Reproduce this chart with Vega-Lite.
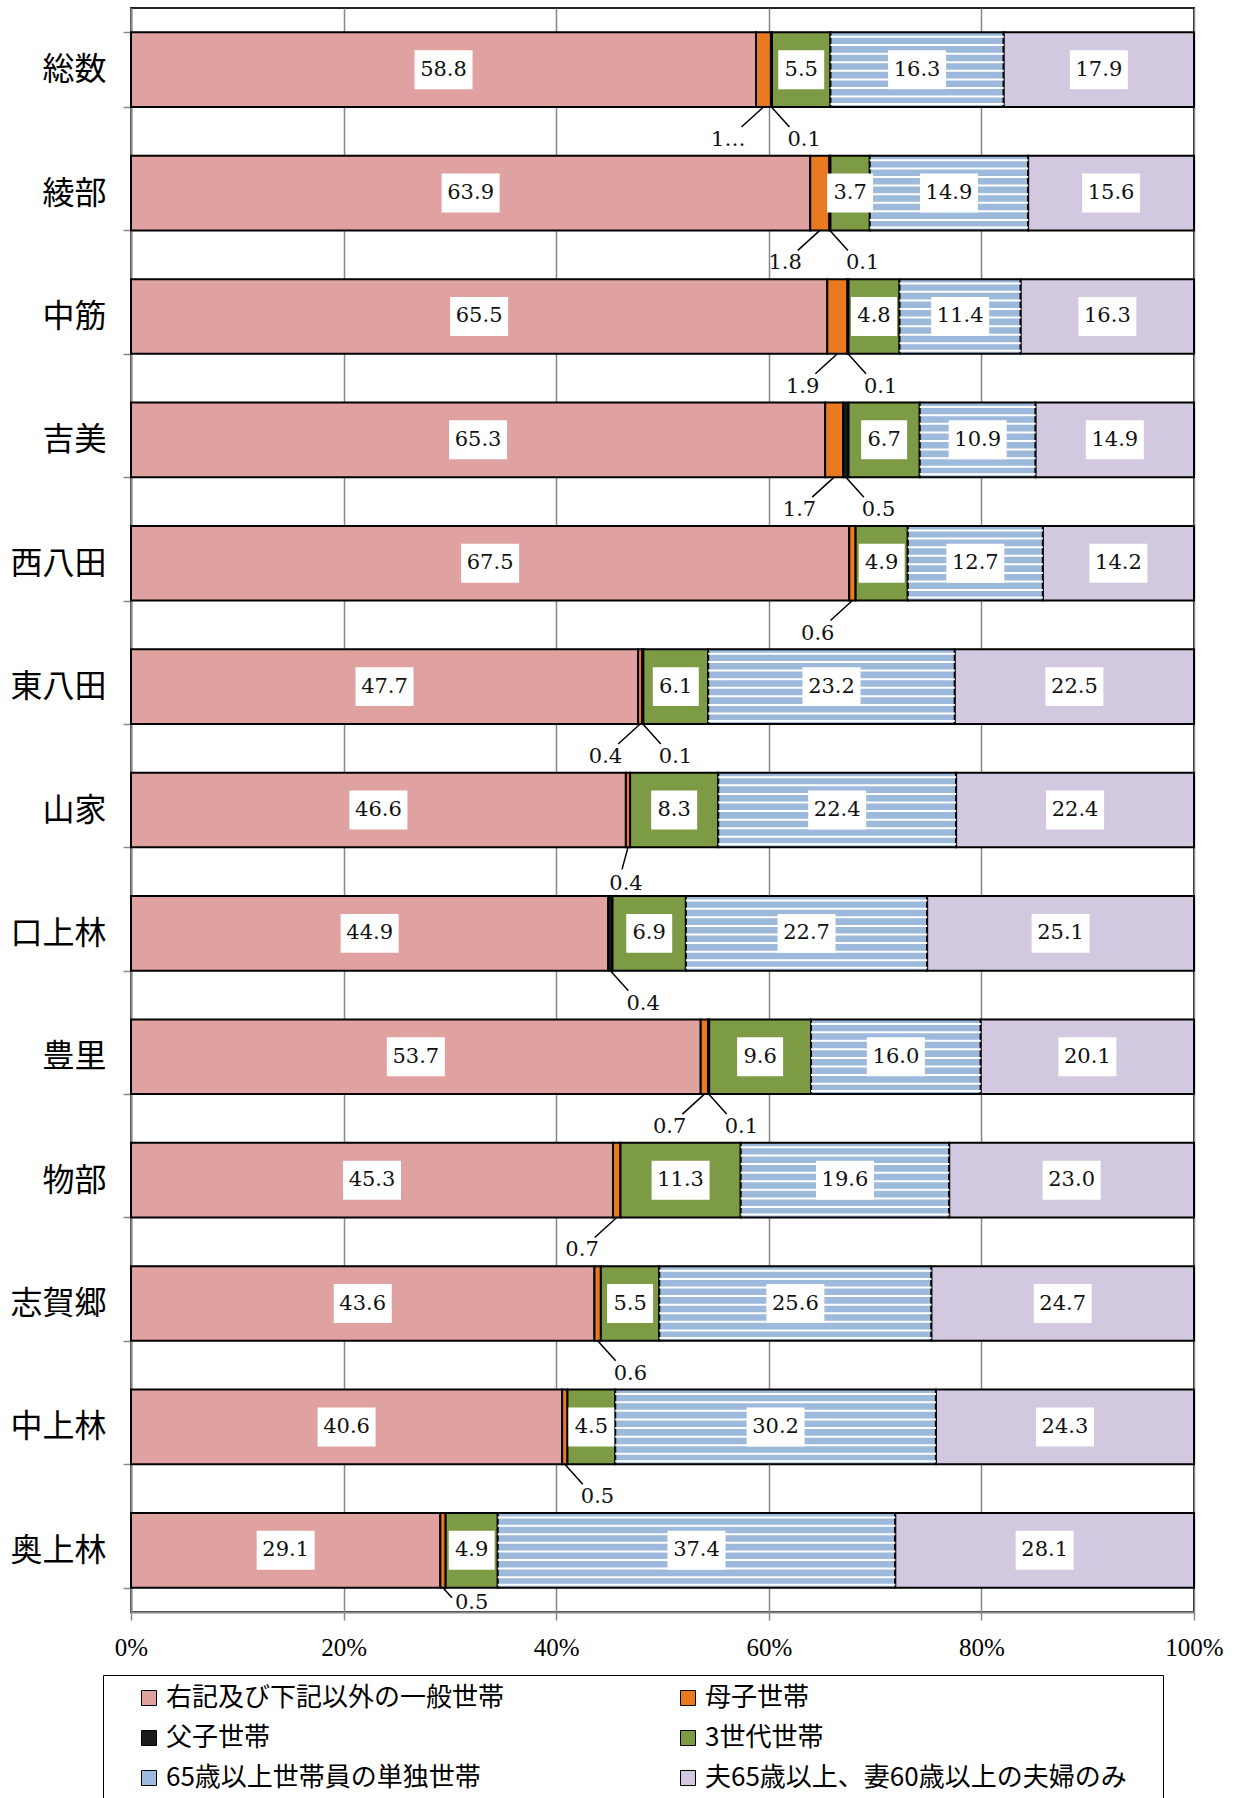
{
  "$schema": "https://vega.github.io/schema/vega-lite/v6.json",
  "width": 1063,
  "height": 1604,
  "autosize": {"type": "none"},
  "padding": {"left": 131, "top": 8, "right": 46, "bottom": 186},
  "background": "white",
  "config": {
    "view": {"stroke": "#222", "strokeWidth": 2},
    "font": "DejaVu Serif"
  },
  "data": {
    "values": [
      {"area": "総数", "type": "右記及び下記以外の一般世帯", "value": 58.8},
      {"area": "総数", "type": "母子世帯", "value": 1.4},
      {"area": "総数", "type": "父子世帯", "value": 0.1},
      {"area": "総数", "type": "3世代世帯", "value": 5.5},
      {"area": "総数", "type": "65歳以上世帯員の単独世帯", "value": 16.3},
      {"area": "総数", "type": "夫65歳以上、妻60歳以上の夫婦のみ", "value": 17.9},
      {"area": "綾部", "type": "右記及び下記以外の一般世帯", "value": 63.9},
      {"area": "綾部", "type": "母子世帯", "value": 1.8},
      {"area": "綾部", "type": "父子世帯", "value": 0.1},
      {"area": "綾部", "type": "3世代世帯", "value": 3.7},
      {"area": "綾部", "type": "65歳以上世帯員の単独世帯", "value": 14.9},
      {"area": "綾部", "type": "夫65歳以上、妻60歳以上の夫婦のみ", "value": 15.6},
      {"area": "中筋", "type": "右記及び下記以外の一般世帯", "value": 65.5},
      {"area": "中筋", "type": "母子世帯", "value": 1.9},
      {"area": "中筋", "type": "父子世帯", "value": 0.1},
      {"area": "中筋", "type": "3世代世帯", "value": 4.8},
      {"area": "中筋", "type": "65歳以上世帯員の単独世帯", "value": 11.4},
      {"area": "中筋", "type": "夫65歳以上、妻60歳以上の夫婦のみ", "value": 16.3},
      {"area": "吉美", "type": "右記及び下記以外の一般世帯", "value": 65.3},
      {"area": "吉美", "type": "母子世帯", "value": 1.7},
      {"area": "吉美", "type": "父子世帯", "value": 0.5},
      {"area": "吉美", "type": "3世代世帯", "value": 6.7},
      {"area": "吉美", "type": "65歳以上世帯員の単独世帯", "value": 10.9},
      {"area": "吉美", "type": "夫65歳以上、妻60歳以上の夫婦のみ", "value": 14.9},
      {"area": "西八田", "type": "右記及び下記以外の一般世帯", "value": 67.5},
      {"area": "西八田", "type": "母子世帯", "value": 0.6},
      {"area": "西八田", "type": "3世代世帯", "value": 4.9},
      {"area": "西八田", "type": "65歳以上世帯員の単独世帯", "value": 12.7},
      {"area": "西八田", "type": "夫65歳以上、妻60歳以上の夫婦のみ", "value": 14.2},
      {"area": "東八田", "type": "右記及び下記以外の一般世帯", "value": 47.7},
      {"area": "東八田", "type": "母子世帯", "value": 0.4},
      {"area": "東八田", "type": "父子世帯", "value": 0.1},
      {"area": "東八田", "type": "3世代世帯", "value": 6.1},
      {"area": "東八田", "type": "65歳以上世帯員の単独世帯", "value": 23.2},
      {"area": "東八田", "type": "夫65歳以上、妻60歳以上の夫婦のみ", "value": 22.5},
      {"area": "山家", "type": "右記及び下記以外の一般世帯", "value": 46.6},
      {"area": "山家", "type": "母子世帯", "value": 0.4},
      {"area": "山家", "type": "3世代世帯", "value": 8.3},
      {"area": "山家", "type": "65歳以上世帯員の単独世帯", "value": 22.4},
      {"area": "山家", "type": "夫65歳以上、妻60歳以上の夫婦のみ", "value": 22.4},
      {"area": "口上林", "type": "右記及び下記以外の一般世帯", "value": 44.9},
      {"area": "口上林", "type": "父子世帯", "value": 0.4},
      {"area": "口上林", "type": "3世代世帯", "value": 6.9},
      {"area": "口上林", "type": "65歳以上世帯員の単独世帯", "value": 22.7},
      {"area": "口上林", "type": "夫65歳以上、妻60歳以上の夫婦のみ", "value": 25.1},
      {"area": "豊里", "type": "右記及び下記以外の一般世帯", "value": 53.7},
      {"area": "豊里", "type": "母子世帯", "value": 0.7},
      {"area": "豊里", "type": "父子世帯", "value": 0.1},
      {"area": "豊里", "type": "3世代世帯", "value": 9.6},
      {"area": "豊里", "type": "65歳以上世帯員の単独世帯", "value": 16.0},
      {"area": "豊里", "type": "夫65歳以上、妻60歳以上の夫婦のみ", "value": 20.1},
      {"area": "物部", "type": "右記及び下記以外の一般世帯", "value": 45.3},
      {"area": "物部", "type": "母子世帯", "value": 0.7},
      {"area": "物部", "type": "3世代世帯", "value": 11.3},
      {"area": "物部", "type": "65歳以上世帯員の単独世帯", "value": 19.6},
      {"area": "物部", "type": "夫65歳以上、妻60歳以上の夫婦のみ", "value": 23.0},
      {"area": "志賀郷", "type": "右記及び下記以外の一般世帯", "value": 43.6},
      {"area": "志賀郷", "type": "母子世帯", "value": 0.6},
      {"area": "志賀郷", "type": "3世代世帯", "value": 5.5},
      {"area": "志賀郷", "type": "65歳以上世帯員の単独世帯", "value": 25.6},
      {"area": "志賀郷", "type": "夫65歳以上、妻60歳以上の夫婦のみ", "value": 24.7},
      {"area": "中上林", "type": "右記及び下記以外の一般世帯", "value": 40.6},
      {"area": "中上林", "type": "母子世帯", "value": 0.5},
      {"area": "中上林", "type": "3世代世帯", "value": 4.5},
      {"area": "中上林", "type": "65歳以上世帯員の単独世帯", "value": 30.2},
      {"area": "中上林", "type": "夫65歳以上、妻60歳以上の夫婦のみ", "value": 24.3},
      {"area": "奥上林", "type": "右記及び下記以外の一般世帯", "value": 29.1},
      {"area": "奥上林", "type": "母子世帯", "value": 0.5},
      {"area": "奥上林", "type": "3世代世帯", "value": 4.9},
      {"area": "奥上林", "type": "65歳以上世帯員の単独世帯", "value": 37.4},
      {"area": "奥上林", "type": "夫65歳以上、妻60歳以上の夫婦のみ", "value": 28.1}
    ]
  },
  "transform": [
    {"calculate": "indexof(['右記及び下記以外の一般世帯','母子世帯','父子世帯','3世代世帯','65歳以上世帯員の単独世帯','夫65歳以上、妻60歳以上の夫婦のみ'], datum.type)", "as": "k"},
    {"stack": "value", "groupby": ["area"], "sort": [{"field": "k", "order": "ascending"}], "offset": "normalize", "as": ["x0", "x1"]},
    {"calculate": "(datum.x0 + datum.x1) / 2", "as": "xm"}
  ],
  "encoding": {
    "y": {
      "field": "area",
      "type": "nominal",
      "sort": ["総数", "綾部", "中筋", "吉美", "西八田", "東八田", "山家", "口上林", "豊里", "物部", "志賀郷", "中上林", "奥上林"],
      "scale": {"paddingInner": 0.395, "paddingOuter": 0.1975},
      "axis": {
        "title": null,
        "labelFont": "Noto Sans CJK JP",
        "labelFontSize": 32,
        "labelColor": "#000",
        "labelPadding": 17,
        "tickBand": "extent",
        "tickSize": 8,
        "tickColor": "#888",
        "tickWidth": 1.5,
        "domainColor": "#888",
        "domainWidth": 2
      }
    }
  },
  "layer": [
    {
      "mark": {"type": "bar", "stroke": "#000", "strokeWidth": 2},
      "encoding": {
        "x": {
          "field": "x0",
          "type": "quantitative",
          "scale": {"domain": [0, 1], "nice": false},
          "axis": {
            "title": null,
            "format": "%",
            "values": [0, 0.2, 0.4, 0.6, 0.8, 1],
            "grid": true,
            "gridColor": "#888",
            "gridWidth": 1.5,
            "domainColor": "#888",
            "domainWidth": 2,
            "tickColor": "#888",
            "tickWidth": 1.5,
            "tickSize": 8,
            "labelFont": "Liberation Serif",
            "labelFontSize": 25,
            "labelColor": "#000",
            "labelPadding": 15,
            "labelFlush": false,
            "labelOverlap": false
          }
        },
        "x2": {"field": "x1"},
        "color": {
          "field": "type",
          "type": "nominal",
          "scale": {
            "domain": ["右記及び下記以外の一般世帯", "母子世帯", "父子世帯", "3世代世帯", "65歳以上世帯員の単独世帯", "夫65歳以上、妻60歳以上の夫婦のみ"],
            "range": ["#E0A2A1", "#E97A22", "#1a1a1a", "#7D9A45", "#9DB9DB", "#D2C8DF"]
          },
          "legend": {
            "orient": "none",
            "legendX": -28,
            "legendY": 1667,
            "direction": "horizontal",
            "columns": 2,
            "title": " ",
            "titleOrient": "right",
            "titleFontSize": 10,
            "titlePadding": 26,
            "symbolType": "square",
            "symbolSize": 225,
            "symbolStrokeColor": "#000",
            "symbolStrokeWidth": 1,
            "labelFont": "Noto Sans CJK JP",
            "labelFontSize": 26,
            "labelFontWeight": "normal",
            "labelColor": "#000",
            "labelLimit": 700,
            "labelOffset": 4,
            "rowPadding": 14,
            "columnPadding": 147,
            "padding": 10,
            "symbolOffset": 23,
            "fillColor": "white",
            "strokeColor": "#000"
          }
        }
      }
    },
    {"transform": [{"filter": "datum.k === 4"}], "mark": {"type": "rule", "color": "white", "strokeWidth": 2}, "encoding": {"x": {"field": "x0", "type": "quantitative"}, "x2": {"field": "x1"}, "y": {"field": "area", "type": "nominal", "sort": ["総数", "綾部", "中筋", "吉美", "西八田", "東八田", "山家", "口上林", "豊里", "物部", "志賀郷", "中上林", "奥上林"], "bandPosition": 0.06}}},
    {"transform": [{"filter": "datum.k === 4"}], "mark": {"type": "rule", "color": "white", "strokeWidth": 2}, "encoding": {"x": {"field": "x0", "type": "quantitative"}, "x2": {"field": "x1"}, "y": {"field": "area", "type": "nominal", "sort": ["総数", "綾部", "中筋", "吉美", "西八田", "東八田", "山家", "口上林", "豊里", "物部", "志賀郷", "中上林", "奥上林"], "bandPosition": 0.17}}},
    {"transform": [{"filter": "datum.k === 4"}], "mark": {"type": "rule", "color": "white", "strokeWidth": 2}, "encoding": {"x": {"field": "x0", "type": "quantitative"}, "x2": {"field": "x1"}, "y": {"field": "area", "type": "nominal", "sort": ["総数", "綾部", "中筋", "吉美", "西八田", "東八田", "山家", "口上林", "豊里", "物部", "志賀郷", "中上林", "奥上林"], "bandPosition": 0.285}}},
    {"transform": [{"filter": "datum.k === 4"}], "mark": {"type": "rule", "color": "white", "strokeWidth": 2}, "encoding": {"x": {"field": "x0", "type": "quantitative"}, "x2": {"field": "x1"}, "y": {"field": "area", "type": "nominal", "sort": ["総数", "綾部", "中筋", "吉美", "西八田", "東八田", "山家", "口上林", "豊里", "物部", "志賀郷", "中上林", "奥上林"], "bandPosition": 0.4}}},
    {"transform": [{"filter": "datum.k === 4"}], "mark": {"type": "rule", "color": "white", "strokeWidth": 2}, "encoding": {"x": {"field": "x0", "type": "quantitative"}, "x2": {"field": "x1"}, "y": {"field": "area", "type": "nominal", "sort": ["総数", "綾部", "中筋", "吉美", "西八田", "東八田", "山家", "口上林", "豊里", "物部", "志賀郷", "中上林", "奥上林"], "bandPosition": 0.515}}},
    {"transform": [{"filter": "datum.k === 4"}], "mark": {"type": "rule", "color": "white", "strokeWidth": 2}, "encoding": {"x": {"field": "x0", "type": "quantitative"}, "x2": {"field": "x1"}, "y": {"field": "area", "type": "nominal", "sort": ["総数", "綾部", "中筋", "吉美", "西八田", "東八田", "山家", "口上林", "豊里", "物部", "志賀郷", "中上林", "奥上林"], "bandPosition": 0.63}}},
    {"transform": [{"filter": "datum.k === 4"}], "mark": {"type": "rule", "color": "white", "strokeWidth": 2}, "encoding": {"x": {"field": "x0", "type": "quantitative"}, "x2": {"field": "x1"}, "y": {"field": "area", "type": "nominal", "sort": ["総数", "綾部", "中筋", "吉美", "西八田", "東八田", "山家", "口上林", "豊里", "物部", "志賀郷", "中上林", "奥上林"], "bandPosition": 0.745}}},
    {"transform": [{"filter": "datum.k === 4"}], "mark": {"type": "rule", "color": "white", "strokeWidth": 2}, "encoding": {"x": {"field": "x0", "type": "quantitative"}, "x2": {"field": "x1"}, "y": {"field": "area", "type": "nominal", "sort": ["総数", "綾部", "中筋", "吉美", "西八田", "東八田", "山家", "口上林", "豊里", "物部", "志賀郷", "中上林", "奥上林"], "bandPosition": 0.86}}},
    {"transform": [{"filter": "datum.k === 4"}], "mark": {"type": "rule", "color": "white", "strokeWidth": 2}, "encoding": {"x": {"field": "x0", "type": "quantitative"}, "x2": {"field": "x1"}, "y": {"field": "area", "type": "nominal", "sort": ["総数", "綾部", "中筋", "吉美", "西八田", "東八田", "山家", "口上林", "豊里", "物部", "志賀郷", "中上林", "奥上林"], "bandPosition": 0.96}}},
    {
      "transform": [{"filter": "(datum.k === 0 || datum.k >= 3) && datum.value >= 10"}],
      "mark": {"type": "point", "shape": "M-1,-0.672H1V0.672H-1Z", "size": 3364, "filled": true, "fill": "white", "opacity": 1, "strokeWidth": 0},
      "encoding": {"x": {"field": "xm", "type": "quantitative"}}
    },
    {
      "transform": [{"filter": "(datum.k === 0 || datum.k >= 3) && datum.value < 10"}],
      "mark": {"type": "point", "shape": "M-0.793,-0.672H0.793V0.672H-0.793Z", "size": 3364, "filled": true, "fill": "white", "opacity": 1, "strokeWidth": 0},
      "encoding": {"x": {"field": "xm", "type": "quantitative"}}
    },
    {
      "transform": [{"filter": "datum.k === 0 || datum.k >= 3"}],
      "mark": {"type": "text", "font": "DejaVu Serif", "fontSize": 21, "color": "#111", "baseline": "middle", "align": "center"},
      "encoding": {
        "x": {"field": "xm", "type": "quantitative"},
        "text": {"field": "value", "type": "quantitative", "format": ".1f"}
      }
    },
    {
      "transform": [{"filter": "datum.type === '母子世帯' && indexof(['総数','綾部','中筋','吉美','西八田','東八田','豊里','物部'], datum.area) >= 0"}],
      "mark": {"type": "rule", "color": "#000", "strokeWidth": 1.5, "x2Offset": -22, "y2Offset": 20},
      "encoding": {
        "x": {"field": "xm", "type": "quantitative"},
        "x2": {"field": "xm"},
        "y": {"field": "area", "type": "nominal", "sort": ["総数", "綾部", "中筋", "吉美", "西八田", "東八田", "山家", "口上林", "豊里", "物部", "志賀郷", "中上林", "奥上林"], "bandPosition": 1},
        "y2": {"field": "area", "bandPosition": 1}
      }
    },
    {
      "transform": [{"filter": "datum.type === '母子世帯' && indexof(['総数','綾部','中筋','吉美','西八田','東八田','豊里','物部'], datum.area) >= 0"}],
      "mark": {"type": "text", "font": "DejaVu Serif", "fontSize": 21, "color": "#111", "baseline": "middle", "align": "right", "dx": -18, "dy": 33},
      "encoding": {
        "x": {"field": "xm", "type": "quantitative"},
        "y": {"field": "area", "type": "nominal", "sort": ["総数", "綾部", "中筋", "吉美", "西八田", "東八田", "山家", "口上林", "豊里", "物部", "志賀郷", "中上林", "奥上林"], "bandPosition": 1},
        "text": {"condition": {"test": "datum.area === '総数' && datum.type === '母子世帯'", "value": "1…"}, "field": "value", "type": "quantitative", "format": ".1f"}
      }
    },
    {
      "transform": [{"filter": "datum.type === '父子世帯' || (datum.type === '母子世帯' && indexof(['志賀郷','中上林'], datum.area) >= 0)"}],
      "mark": {"type": "rule", "color": "#000", "strokeWidth": 1.5, "x2Offset": 18, "y2Offset": 20},
      "encoding": {
        "x": {"field": "xm", "type": "quantitative"},
        "x2": {"field": "xm"},
        "y": {"field": "area", "type": "nominal", "sort": ["総数", "綾部", "中筋", "吉美", "西八田", "東八田", "山家", "口上林", "豊里", "物部", "志賀郷", "中上林", "奥上林"], "bandPosition": 1},
        "y2": {"field": "area", "bandPosition": 1}
      }
    },
    {
      "transform": [{"filter": "datum.type === '父子世帯' || (datum.type === '母子世帯' && indexof(['志賀郷','中上林'], datum.area) >= 0)"}],
      "mark": {"type": "text", "font": "DejaVu Serif", "fontSize": 21, "color": "#111", "baseline": "middle", "align": "left", "dx": 16, "dy": 33},
      "encoding": {
        "x": {"field": "xm", "type": "quantitative"},
        "y": {"field": "area", "type": "nominal", "sort": ["総数", "綾部", "中筋", "吉美", "西八田", "東八田", "山家", "口上林", "豊里", "物部", "志賀郷", "中上林", "奥上林"], "bandPosition": 1},
        "text": {"field": "value", "type": "quantitative", "format": ".1f"}
      }
    },
    {
      "transform": [{"filter": "datum.type === '母子世帯' && datum.area === '山家'"}],
      "mark": {"type": "rule", "color": "#000", "strokeWidth": 1.5, "x2Offset": -6, "y2Offset": 22},
      "encoding": {
        "x": {"field": "xm", "type": "quantitative"},
        "x2": {"field": "xm"},
        "y": {"field": "area", "type": "nominal", "sort": ["総数", "綾部", "中筋", "吉美", "西八田", "東八田", "山家", "口上林", "豊里", "物部", "志賀郷", "中上林", "奥上林"], "bandPosition": 1},
        "y2": {"field": "area", "bandPosition": 1}
      }
    },
    {
      "transform": [{"filter": "datum.type === '母子世帯' && datum.area === '山家'"}],
      "mark": {"type": "text", "font": "DejaVu Serif", "fontSize": 21, "color": "#111", "baseline": "middle", "align": "center", "dx": -2, "dy": 37},
      "encoding": {
        "x": {"field": "xm", "type": "quantitative"},
        "y": {"field": "area", "type": "nominal", "sort": ["総数", "綾部", "中筋", "吉美", "西八田", "東八田", "山家", "口上林", "豊里", "物部", "志賀郷", "中上林", "奥上林"], "bandPosition": 1},
        "text": {"field": "value", "type": "quantitative", "format": ".1f"}
      }
    },
    {
      "transform": [{"filter": "datum.type === '母子世帯' && datum.area === '奥上林'"}],
      "mark": {"type": "rule", "color": "#000", "strokeWidth": 1.5, "x2Offset": 9, "y2Offset": 10},
      "encoding": {
        "x": {"field": "xm", "type": "quantitative"},
        "x2": {"field": "xm"},
        "y": {"field": "area", "type": "nominal", "sort": ["総数", "綾部", "中筋", "吉美", "西八田", "東八田", "山家", "口上林", "豊里", "物部", "志賀郷", "中上林", "奥上林"], "bandPosition": 1},
        "y2": {"field": "area", "bandPosition": 1}
      }
    },
    {
      "transform": [{"filter": "datum.type === '母子世帯' && datum.area === '奥上林'"}],
      "mark": {"type": "text", "font": "DejaVu Serif", "fontSize": 21, "color": "#111", "baseline": "middle", "align": "left", "dx": 12, "dy": 15},
      "encoding": {
        "x": {"field": "xm", "type": "quantitative"},
        "y": {"field": "area", "type": "nominal", "sort": ["総数", "綾部", "中筋", "吉美", "西八田", "東八田", "山家", "口上林", "豊里", "物部", "志賀郷", "中上林", "奥上林"], "bandPosition": 1},
        "text": {"field": "value", "type": "quantitative", "format": ".1f"}
      }
    }
  ]
}
